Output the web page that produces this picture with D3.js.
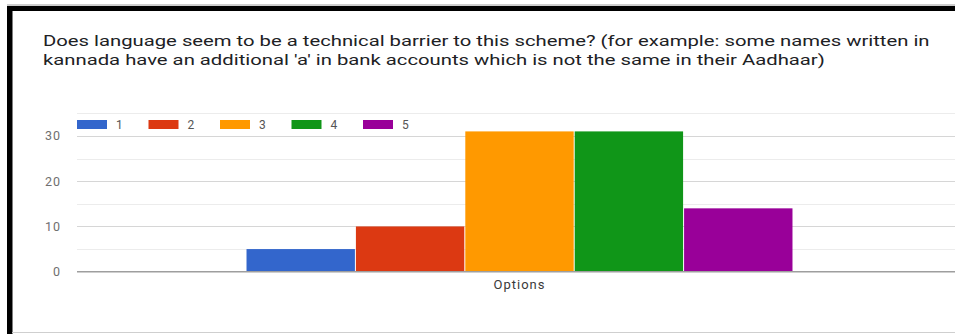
<!DOCTYPE html>
<html>
<head>
<meta charset="utf-8">
<script src="https://cdn.jsdelivr.net/npm/d3@7"></script>
<style>
  html, body { margin: 0; padding: 0; background: #fff; overflow: hidden; }
  svg { display: block; font-family: Roboto, "Noto Sans", Arial, sans-serif; }
</style>
</head>
<body>
<svg id="chart" width="955" height="334"></svg>
<script>
// Survey question and responses
const titleLines = [
  "Does language seem to be a technical barrier to this scheme? (for example: some names written in",
  "kannada have an additional 'a' in bank accounts which is not the same in their Aadhaar)"
];
const categories = ["Options"];
const seriesNames = ["1", "2", "3", "4", "5"];
const seriesValues = [5, 10, 31, 31, 14];
const seriesColors = ["#3366cc", "#dc3912", "#ff9900", "#109618", "#990099"];
const majorTicks = [0, 10, 20, 30];
const minorTicks = [5, 15, 25, 35];

const svg = d3.select("#chart");
const W = 955, H = 334;

// Card frame: thick dark edge on top and left, light rules at top and bottom
svg.append("line").attr("x1", 7).attr("x2", W).attr("y1", 5).attr("y2", 5)
  .attr("stroke", "#9a9a9a").attr("stroke-width", 1);
svg.append("rect").attr("x", 7).attr("y", 6).attr("width", W - 7).attr("height", 5).attr("fill", "#000");
svg.append("rect").attr("x", 7).attr("y", 6).attr("width", 5.5).attr("height", H - 6).attr("fill", "#000");
svg.append("line").attr("x1", 12).attr("x2", W).attr("y1", 332.5).attr("y2", 332.5)
  .attr("stroke", "#cfcfcf").attr("stroke-width", 1);

// Title, stretched so the first line spans its full measured width
const title = svg.append("g").attr("fill", "#202124").attr("font-size", 15.5);
titleLines.forEach((t, i) => {
  title.append("text").attr("x", 0).attr("y", 45.7 + i * 19.3).text(t);
});
const first = title.select("text").node();
const sx = 887 / first.getComputedTextLength();
title.attr("transform", `translate(43,0) scale(${sx},1)`);

// Scales
const plot = { left: 77, right: 962, top: 113.3, bottom: 271.7 };
const x0 = d3.scaleBand().domain(categories).range([plot.left, plot.right])
  .paddingInner(0).paddingOuter(0.309);
const x1 = d3.scaleBand().domain(seriesNames).range([0, x0.bandwidth()]);
const y = d3.scaleLinear().domain([0, 35]).range([plot.bottom, plot.top]);

// Gridlines
svg.append("g").selectAll("line").data(minorTicks).join("line")
  .attr("x1", plot.left).attr("x2", W)
  .attr("y1", d => Math.round(y(d)) + 0.5).attr("y2", d => Math.round(y(d)) + 0.5)
  .attr("stroke", "#ececec").attr("stroke-width", 1);
svg.append("g").selectAll("line").data(majorTicks.filter(d => d > 0)).join("line")
  .attr("x1", plot.left).attr("x2", W)
  .attr("y1", d => Math.round(y(d)) + 0.5).attr("y2", d => Math.round(y(d)) + 0.5)
  .attr("stroke", "#d6d6d6").attr("stroke-width", 1);

// Y axis labels
const yAxis = d3.axisLeft(y).tickValues(majorTicks).tickSize(0).tickPadding(0);
const yg = svg.append("g").attr("transform", `translate(61,0)`).call(yAxis);
yg.select(".domain").remove();
yg.selectAll("text").attr("font-size", 12.5).attr("fill", "#6f6f6f")
  .attr("letter-spacing", 1).attr("font-family", "Roboto, sans-serif");

// Bars
const groups = svg.append("g").selectAll("g").data(categories).join("g")
  .attr("transform", d => `translate(${x0(d)},0)`);
groups.selectAll("rect")
  .data(() => seriesNames.map((s, i) => ({ s, v: seriesValues[i], c: seriesColors[i] })))
  .join("rect")
  .attr("x", d => x1(d.s) + 0.5)
  .attr("width", x1.bandwidth() - 1)
  .attr("y", d => y(d.v))
  .attr("height", d => y(0) - y(d.v))
  .attr("fill", d => d.c);

// Baseline
svg.append("line").attr("x1", plot.left).attr("x2", W)
  .attr("y1", y(0)).attr("y2", y(0))
  .attr("stroke", "#9e9e9e").attr("stroke-width", 1.6);

// X axis label
const xAxis = d3.axisBottom(x0).tickSize(0).tickPadding(0);
const xg = svg.append("g").attr("transform", `translate(0,288.5)`).call(xAxis);
xg.select(".domain").remove();
xg.selectAll("text").attr("font-size", 13).attr("fill", "#3a3a3a")
  .attr("letter-spacing", 1).attr("font-family", "Roboto, sans-serif")
  .attr("dy", 0).attr("y", 0);

// Legend
const legend = svg.append("g").attr("transform", "translate(77,120)");
const items = legend.selectAll("g").data(seriesNames).join("g")
  .attr("transform", (d, i) => `translate(${i * 71.5},0)`);
items.append("rect").attr("width", 30).attr("height", 9)
  .attr("fill", (d, i) => seriesColors[i]);
items.append("text").attr("x", 39).attr("y", 4.5).attr("dy", "0.35em")
  .attr("font-size", 12).attr("fill", "#555").text(d => d);
</script>
</body>
</html>
